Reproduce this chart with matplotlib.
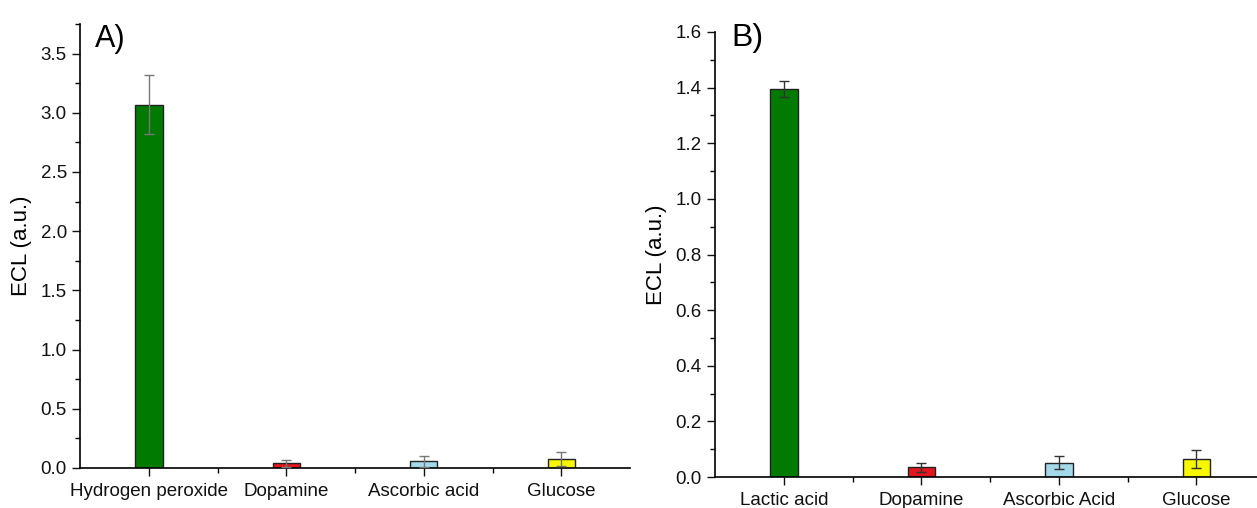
import matplotlib.pyplot as plt
from matplotlib.ticker import MultipleLocator, FixedLocator

plt.rcParams['font.family'] = ['Liberation Sans', 'DejaVu Sans']

# Panel A: selectivity of the hydrogen peroxide sensor
labels_a = ['Hydrogen peroxide', 'Dopamine', 'Ascorbic acid', 'Glucose']
ecl_a = [3.07, 0.04, 0.055, 0.076]
err_a = [0.25, 0.03, 0.05, 0.057]

# Panel B: selectivity of the lactic acid sensor
labels_b = ['Lactic acid', 'Dopamine', 'Ascorbic Acid', 'Glucose']
ecl_b = [1.395, 0.035, 0.052, 0.064]
err_b = [0.03, 0.016, 0.022, 0.032]

bar_colors = ['#007a00', '#e3161e', '#a3d9e8', '#f7f700']


def draw_panel(ax, labels, values, errors, ecolor, ymax, major, minor,
               tag, tag_pos, tag_size):
    x = range(1, len(labels) + 1)
    ax.bar(x, values, width=0.2, color=bar_colors, edgecolor='#222222',
           linewidth=1.0, zorder=2)
    ax.errorbar(x, values, yerr=errors, fmt='none', ecolor=ecolor,
                elinewidth=1.0, capsize=3.5, capthick=1.0, zorder=3)
    ax.set_xlim(0.5, len(labels) + 0.5)
    ax.set_ylim(0, ymax)
    ax.set_xticks(list(x))
    ax.set_xticklabels(labels)
    ax.xaxis.set_minor_locator(FixedLocator([1.5, 2.5, 3.5]))
    ax.yaxis.set_major_locator(MultipleLocator(major))
    ax.yaxis.set_minor_locator(MultipleLocator(minor))
    ax.yaxis.set_major_formatter('{x:.1f}')
    ax.tick_params(which='major', direction='out', length=6, width=1.0,
                   labelsize=13.5, colors='#111111')
    ax.tick_params(which='minor', direction='out', length=3.5, width=1.0)
    ax.tick_params(axis='x', which='major', pad=5)
    for side in ('top', 'right'):
        ax.spines[side].set_visible(False)
    for side in ('left', 'bottom'):
        ax.spines[side].set_linewidth(1.2)
    ax.set_ylabel('ECL (a.u.)', fontsize=16, labelpad=6)
    ax.text(tag_pos[0], tag_pos[1], tag, transform=ax.transAxes,
            fontsize=tag_size, va='top', ha='left', clip_on=False)


fig = plt.figure(figsize=(12.57, 5.08), dpi=100)
ax_a = fig.add_axes([80 / 1257, 1 - 468 / 508, 550 / 1257, 444 / 508])
ax_b = fig.add_axes([715 / 1257, 1 - 477 / 508, 550 / 1257, 445 / 508])

draw_panel(ax_a, labels_a, ecl_a, err_a, '#777777', 3.75, 0.5, 0.25,
           'A)', (0.028, 1.0), 22)
draw_panel(ax_b, labels_b, ecl_b, err_b, '#333333', 1.6, 0.2, 0.1,
           'B)', (0.03, 1.021), 23)

fig.savefig('out.png', dpi=100)
